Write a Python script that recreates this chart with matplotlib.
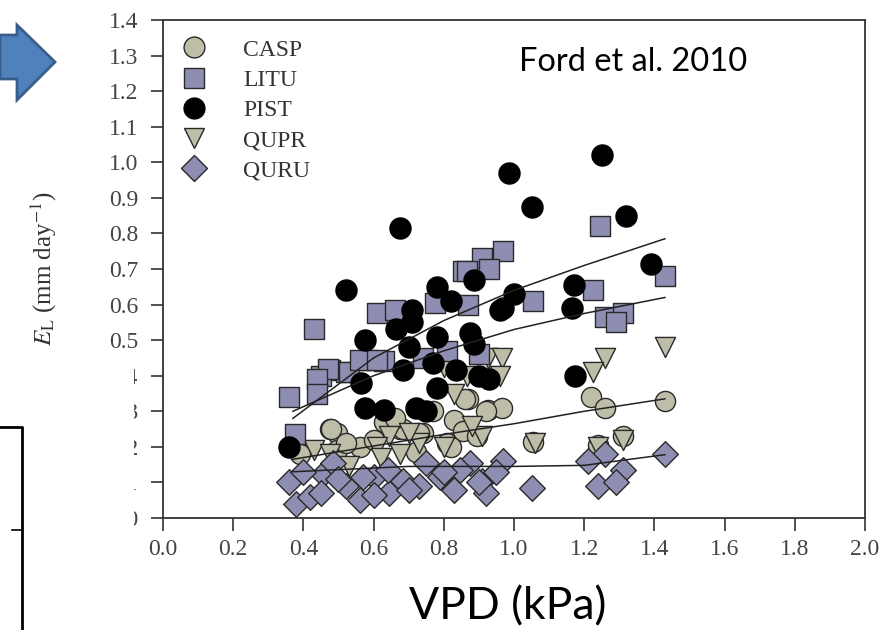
#!/usr/bin/env python3

import matplotlib.pyplot as plt
from matplotlib.lines import Line2D
from matplotlib.patches import Polygon, Rectangle

# --- data (VPD in kPa, E_L in mm/day) ---
casp_x = [1.22, 1.26, 1.43, 1.31, 1.24, 0.87, 0.925, 0.965, 0.475, 0.495, 0.77, 0.83,
          0.63, 0.675, 0.74, 0.855, 0.56, 0.81, 0.495, 1.055, 0.39, 0.48, 0.73, 0.86,
          0.92, 0.685, 0.82, 0.72, 0.895, 0.60, 0.52, 0.66]
casp_y = [0.34, 0.31, 0.33, 0.23, 0.205, 0.335, 0.305, 0.31, 0.25, 0.24, 0.30, 0.275,
          0.27, 0.25, 0.24, 0.245, 0.20, 0.21, 0.19, 0.215, 0.18, 0.25, 0.24, 0.335,
          0.30, 0.25, 0.20, 0.185, 0.23, 0.22, 0.21, 0.28]

litu_x = [1.245, 1.43, 1.225, 1.26, 1.31, 1.29, 0.97, 0.91, 0.93, 0.855, 1.055, 0.775,
          0.87, 0.61, 0.66, 0.43, 0.865, 0.58, 0.63, 0.475, 0.52, 0.45, 0.81, 0.90,
          0.74, 0.47, 0.53, 0.56, 0.44, 0.36, 0.44, 0.375, 0.61]
litu_y = [0.82, 0.68, 0.64, 0.565, 0.575, 0.55, 0.75, 0.73, 0.70, 0.695, 0.61, 0.605,
          0.60, 0.575, 0.585, 0.53, 0.695, 0.445, 0.44, 0.415, 0.41, 0.40, 0.47, 0.46,
          0.45, 0.42, 0.41, 0.445, 0.39, 0.34, 0.35, 0.235, 0.445]

pist_x = [0.985, 1.25, 1.05, 1.32, 0.675, 1.39, 0.52, 0.78, 0.885, 0.82, 1.0, 0.97,
          1.17, 1.165, 0.71, 0.71, 0.575, 0.78, 0.885, 0.665, 0.875, 0.70, 0.685, 0.77,
          0.835, 0.93, 0.565, 0.90, 0.78, 0.575, 0.63, 0.72, 0.75, 0.36, 1.175, 0.96]
pist_y = [0.97, 1.02, 0.875, 0.85, 0.815, 0.715, 0.64, 0.65, 0.67, 0.61, 0.63, 0.59,
          0.655, 0.59, 0.585, 0.55, 0.50, 0.51, 0.49, 0.53, 0.52, 0.48, 0.415, 0.435,
          0.415, 0.39, 0.38, 0.40, 0.365, 0.31, 0.305, 0.31, 0.30, 0.20, 0.40, 0.585]

qupr_x = [1.43, 1.26, 1.225, 0.925, 0.965, 0.80, 0.865, 0.83, 0.645, 0.91, 0.73, 0.675,
          0.53, 0.43, 0.475, 1.06, 0.61, 0.80, 0.62, 1.31, 1.24, 0.96, 0.70, 0.88]
qupr_y = [0.48, 0.45, 0.41, 0.45, 0.45, 0.425, 0.40, 0.35, 0.23, 0.23, 0.21, 0.18,
          0.145, 0.19, 0.18, 0.21, 0.20, 0.20, 0.17, 0.22, 0.20, 0.40, 0.24, 0.26]

quru_x = [1.43, 1.26, 1.31, 1.24, 1.29, 1.21, 1.05, 0.38, 0.36, 0.455, 0.42, 0.52,
          0.56, 0.60, 0.645, 0.685, 0.73, 0.79, 0.83, 0.875, 0.91, 0.97, 0.92, 0.75,
          0.64, 0.485, 0.57, 0.845, 0.45, 0.60, 0.70, 0.50, 0.80, 0.90, 0.95, 0.40]
quru_y = [0.18, 0.18, 0.135, 0.09, 0.10, 0.16, 0.085, 0.04, 0.10, 0.125, 0.06, 0.09,
          0.05, 0.115, 0.07, 0.105, 0.09, 0.115, 0.08, 0.155, 0.105, 0.16, 0.07, 0.155,
          0.135, 0.155, 0.115, 0.135, 0.07, 0.065, 0.08, 0.11, 0.13, 0.10, 0.13, 0.13]

# fitted curves as they appear in the figure
litu_fit_x = [0.37, 0.6, 0.8, 1.0, 1.2, 1.43]
litu_fit_y = [0.28, 0.45, 0.555, 0.64, 0.71, 0.785]
pist_fit_x = [0.37, 0.6, 0.8, 1.0, 1.2, 1.43]
pist_fit_y = [0.30, 0.40, 0.47, 0.53, 0.575, 0.62]
casp_fit_x = [0.37, 0.8, 1.0, 1.2, 1.43]
casp_fit_y = [0.165, 0.235, 0.265, 0.30, 0.335]
quru_fit_x = [0.37, 0.7, 1.0, 1.2, 1.43]
quru_fit_y = [0.13, 0.145, 0.145, 0.148, 0.178]

x_ticks = [0.0, 0.2, 0.4, 0.6, 0.8, 1.0, 1.2, 1.4, 1.6, 1.8, 2.0]
y_ticks = [0.0, 0.1, 0.2, 0.3, 0.4, 0.5, 0.6, 0.7, 0.8, 0.9, 1.0, 1.1, 1.2, 1.3, 1.4]

LAV = '#8e8eb2'
BEIGE = '#bebea8'
EDGE = '#2a2a2a'
SERIF = 'Liberation Serif'

plt.rcParams['mathtext.fontset'] = 'stix'

fig = plt.figure(figsize=(8.87, 6.3), dpi=100)
W, H = 887, 630
ax = fig.add_axes([163 / W, 1 - 518 / H, 702 / W, 498 / H])

for fx, fy in [(litu_fit_x, litu_fit_y), (pist_fit_x, pist_fit_y),
               (casp_fit_x, casp_fit_y), (quru_fit_x, quru_fit_y)]:
    ax.plot(fx, fy, color='#222222', lw=1.1, zorder=5)

ax.scatter(casp_x, casp_y, s=210, marker='o', c=BEIGE, edgecolors=EDGE, linewidths=1, zorder=2)
ax.scatter(qupr_x, qupr_y, s=210, marker='v', c=BEIGE, edgecolors=EDGE, linewidths=1, zorder=2)
ax.scatter(quru_x, quru_y, s=170, marker='D', c=LAV, edgecolors=EDGE, linewidths=1, zorder=3)
ax.scatter(litu_x, litu_y, s=190, marker='s', c=LAV, edgecolors=EDGE, linewidths=1, zorder=3)
ax.scatter(pist_x, pist_y, s=230, marker='o', c='black', edgecolors='black', linewidths=1, zorder=4)

ax.set_xlim(0, 2.0)
ax.set_ylim(0, 1.4)
ax.set_xticks(x_ticks)
ax.set_yticks(y_ticks)
ax.set_xticklabels([f'{v:.1f}' for v in x_ticks], fontsize=17, family=SERIF, color='#444444')
ax.set_yticklabels([f'{v:.1f}' for v in y_ticks], fontsize=17, family=SERIF, color='#444444')
ax.tick_params(direction='out', length=9, width=1.2, color='#333333', top=False, right=False)
ax.tick_params(axis='x', pad=6)
ax.tick_params(axis='y', pad=9)
for sp in ax.spines.values():
    sp.set_color('#333333')
    sp.set_linewidth(1.3)

ax.set_ylabel(r'$E_{\mathrm{L}}$ (mm day$^{\mathrm{-1}}$)', fontsize=18,
              family=SERIF, color='#333333')
ax.yaxis.set_label_coords(-0.148, 0.5)

handles = [
    Line2D([], [], ls='none', marker='o', ms=15, mfc=BEIGE, mec=EDGE, label='CASP'),
    Line2D([], [], ls='none', marker='s', ms=14, mfc=LAV, mec=EDGE, label='LITU'),
    Line2D([], [], ls='none', marker='o', ms=15, mfc='black', mec='black', label='PIST'),
    Line2D([], [], ls='none', marker='v', ms=15, mfc=BEIGE, mec=EDGE, label='QUPR'),
    Line2D([], [], ls='none', marker='D', ms=13, mfc=LAV, mec=EDGE, label='QURU'),
]
ax.legend(handles=handles, loc='upper left', bbox_to_anchor=(0.0, 0.995), frameon=False,
          prop={'family': SERIF, 'size': 17}, labelspacing=0.37, handlelength=1.2,
          handletextpad=1.5, labelcolor='#333333', borderaxespad=0.3)

# slide decorations around the chart
fig.text(519 / W, 1 - 62 / H, 'Ford et al. 2010', fontsize=23.5, family='Lato',
         va='center', ha='left', color='black')
fig.text(508 / W, 1 - 607 / H, 'VPD (kPa)', fontsize=32, family='Lato',
         va='center', ha='center', color='black')

# white patch hiding part of the y tick labels
fig.patches.append(Rectangle((85 / W, 1 - 532 / H), 49 / W, 175 / H,
                             transform=fig.transFigure, fc='white', ec='none', zorder=10))

# blue arrow
arrow_px = [(0, 35), (17, 35), (17, 25), (55, 62), (17, 100), (17, 79), (0, 79)]
fig.patches.append(Polygon([(x / W, 1 - y / H) for x, y in arrow_px], closed=True,
                           transform=fig.transFigure, fc='#4F81BD', ec='#385D8A', lw=2))

# partial box of a neighbouring chart
fig.lines.append(Line2D([0, 22 / W, 22 / W], [1 - 427 / H, 1 - 427 / H, 0],
                        transform=fig.transFigure, color='black', lw=2))
fig.lines.append(Line2D([12 / W, 22 / W], [1 - 530 / H, 1 - 530 / H],
                        transform=fig.transFigure, color='black', lw=1.2))

fig.savefig('out.png', dpi=100)
